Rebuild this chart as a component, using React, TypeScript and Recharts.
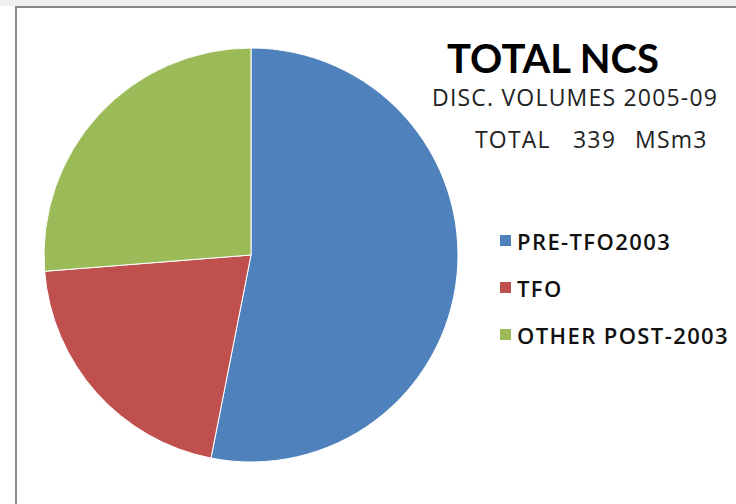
import React from 'react';
import { PieChart, Pie, Cell, Legend } from 'recharts';

const categories = ['PRE-TFO2003', 'TFO', 'OTHER POST-2003'];
const volumes = [180, 70, 89];
const colors = ['#4F81BD', '#C0504D', '#9BBB59'];

const data = categories.map((name, i) => ({ name, value: volumes[i] }));

const font = 'Lato, "Open Sans", sans-serif';
const font2 = '"Open Sans", Lato, sans-serif';

const LegendBox = () => (
  <div style={{ fontFamily: font2 }}>
    {categories.map((name, i) => (
      <div key={name} style={{ display: 'flex', alignItems: 'center', height: 47 }}>
        <span style={{ width: 11, height: 11, background: colors[i], marginRight: 6 }} />
        <span style={{ fontSize: 22, fontWeight: 600, color: '#111', letterSpacing: 1.4 }}>{name}</span>
      </div>
    ))}
  </div>
);

const sub = { position: 'absolute' as const, fontFamily: font2, fontSize: 23, color: '#222', lineHeight: 1, letterSpacing: 1.2 };

export default function App() {
  return (
    <div style={{ position: 'absolute', left: 0, top: 0, width: 736, height: 504, background: '#fff', overflow: 'hidden' }}>
      <div style={{ position: 'absolute', left: 0, top: 0, width: 736, height: 6, background: '#efefef' }} />
      <div style={{ position: 'absolute', left: 15, top: 6, width: 730, height: 510, borderTop: '2px solid #8a8a8a', borderLeft: '2px solid #8a8a8a' }} />
      <PieChart width={736} height={504} margin={{ top: 0, right: 0, bottom: 0, left: 0 }} style={{ position: 'absolute', left: 0, top: 0 }}>
        <Pie
          data={data}
          dataKey="value"
          nameKey="name"
          cx={251}
          cy={255}
          outerRadius={207}
          startAngle={90}
          endAngle={-270}
          stroke="#ffffff"
          strokeWidth={1}
          isAnimationActive={false}
        >
          {data.map((d, i) => (
            <Cell key={d.name} fill={colors[i]} />
          ))}
        </Pie>
        <Legend
          layout="vertical"
          content={<LegendBox />}
          wrapperStyle={{ position: 'absolute', left: 500, top: 217, width: 236 }}
        />
      </PieChart>
      <div style={{ position: 'absolute', left: 447, top: 38, fontFamily: font, fontWeight: 700, fontSize: 40, color: '#000', lineHeight: 1 }}>
        TOTAL NCS
      </div>
      <div style={{ ...sub, left: 432, top: 86 }}>DISC. VOLUMES 2005-09</div>
      <div style={{ ...sub, left: 475, top: 128 }}>TOTAL</div>
      <div style={{ ...sub, left: 573, top: 128 }}>339</div>
      <div style={{ ...sub, left: 635, top: 128 }}>MSm3</div>
    </div>
  );
}
